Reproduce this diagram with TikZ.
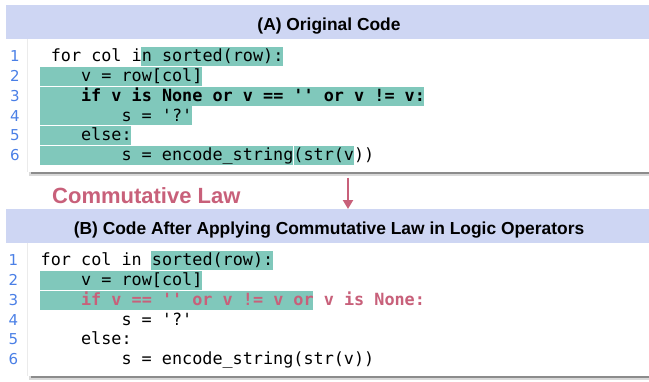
\documentclass[tikz,border=0pt]{standalone}
\usepackage{fontspec}
\setmainfont{Liberation Sans}
\setmonofont{DejaVu Sans Mono}
\newfontfamily\numfont{DejaVu Sans}
\usepackage{tikz}
\usetikzlibrary{arrows.meta}

\definecolor{hdrblue}{RGB}{206,214,243}
\definecolor{hlteal}{RGB}{128,200,187}
\definecolor{lawred}{RGB}{200,96,122}
\definecolor{numblue}{RGB}{74,127,230}

\newcommand{\sq}{\char"0027\relax}
% highlight: line, first column, last column
\newcommand{\hlbox}[3]{\fill[hlteal] ({40.5+10.1*#2-0.6},{51.6+19.75*(#1-1)-9.4}) rectangle ({40.5+10.1*#3},{51.6+19.75*(#1-1)+9.4});}

\begin{document}
\begin{tikzpicture}[x=1pt,y=-1pt]
      \tikzstyle{hdr}=[fill=hdrblue, inner sep=0pt, minimum width=643.5pt, minimum height=34pt, anchor=north west]
      \tikzstyle{codebox}=[fill=white, inner sep=0pt, minimum width=622pt, minimum height=132.5pt, anchor=north west]
      \tikzstyle{title}=[font=\fontsize{17.4}{20}\selectfont\bfseries, anchor=base, inner sep=0pt]
      \tikzstyle{code}=[font=\fontsize{16.8}{19.75}\selectfont\ttfamily, anchor=base west, inner sep=0pt]
      \tikzstyle{lineno}=[font=\fontsize{15}{18}\selectfont\numfont, text=numblue, anchor=base, inner sep=0pt]
      \tikzstyle{lawarrow}=[draw=lawred, line width=2.2pt, -{Triangle[length=9pt,width=10pt]}]

      \useasboundingbox (0,0) rectangle (649,381);

      \begin{scope}[yshift=-5pt]
        \node (hdrA) [hdr] at (5.5,0) {};
        \node (titleA) [title] at (329,25) {(A) Original Code};

        \fill[black!15] (29,166) rectangle (649,171);
        \fill[black!45] (31,166) rectangle (649,169);
        \node (codeA) [codebox] at (27,34) {};
        \draw[black!8] (codeA.north west) -- (codeA.south west);

        \hlbox{1}{10}{24}
        \hlbox{2}{0}{16}
        \hlbox{3}{0}{38}
        \hlbox{4}{0}{15}
        \hlbox{5}{0}{9}
        \hlbox{6}{0}{25}
        \hlbox{6}{25.12}{31}

        \node (lnA1) [lineno] at (15,56.8) {1};
        \node (lnA2) [lineno] at (15,76.55) {2};
        \node (lnA3) [lineno] at (15,96.3) {3};
        \node (lnA4) [lineno] at (15,116.05) {4};
        \node (lnA5) [lineno] at (15,135.8) {5};
        \node (lnA6) [lineno] at (15,155.55) {6};

        \node (lineA1) [code] at (50.6,56.8) {for col in sorted(row):};
        \node (lineA2) [code] at (80.9,76.55) {v = row[col]};
        \node (lineA3) [code, font=\fontsize{16.8}{19.75}\selectfont\ttfamily\bfseries] at (80.9,96.3) {if v is None or v == \sq\sq{} or v != v:};
        \node (lineA4) [code] at (121.3,116.05) {s = \sq?\sq};
        \node (lineA5) [code] at (80.9,135.8) {else:};
        \node (lineA6) [code] at (121.3,155.55) {s = encode\_string(str(v))};
      \end{scope}

      \node (lawlabel) [font=\fontsize{22}{26}\selectfont\bfseries, text=lawred, anchor=base west, inner sep=0pt] at (52,203) {Commutative Law};

      \begin{scope}[yshift=-209pt]
        \node (hdrB) [hdr] at (5.5,0) {};
        \node (titleB) [title] at (329,25) {(B) Code After Applying Commutative Law in Logic Operators};

        \fill[black!15] (29,166) rectangle (649,171);
        \fill[black!45] (31,166) rectangle (649,169);
        \node (codeB) [codebox] at (27,34) {};
        \draw[black!8] (codeB.north west) -- (codeB.south west);

        \hlbox{1}{11}{23}
        \hlbox{2}{0}{16}
        \hlbox{3}{0}{27}

        \node (lnB1) [lineno] at (13.5,56.8) {1};
        \node (lnB2) [lineno] at (13.5,76.55) {2};
        \node (lnB3) [lineno] at (13.5,96.3) {3};
        \node (lnB4) [lineno] at (13.5,116.05) {4};
        \node (lnB5) [lineno] at (13.5,135.8) {5};
        \node (lnB6) [lineno] at (13.5,155.55) {6};

        \node (lineB1) [code] at (40.5,56.8) {for col in sorted(row):};
        \node (lineB2) [code] at (80.9,76.55) {v = row[col]};
        \node (lineB3) [code, font=\fontsize{16.8}{19.75}\selectfont\ttfamily\bfseries, text=lawred] at (80.9,96.3) {if v == \sq\sq{} or v != v or v is None:};
        \node (lineB4) [code] at (121.3,116.05) {s = \sq?\sq};
        \node (lineB5) [code] at (80.9,135.8) {else:};
        \node (lineB6) [code] at (121.3,155.55) {s = encode\_string(str(v))};
      \end{scope}

      \coordinate (lawtop) at (348,177.5);
      \draw[lawarrow] (lawtop) -- (lawtop |- hdrB.north);
\end{tikzpicture}
\end{document}
